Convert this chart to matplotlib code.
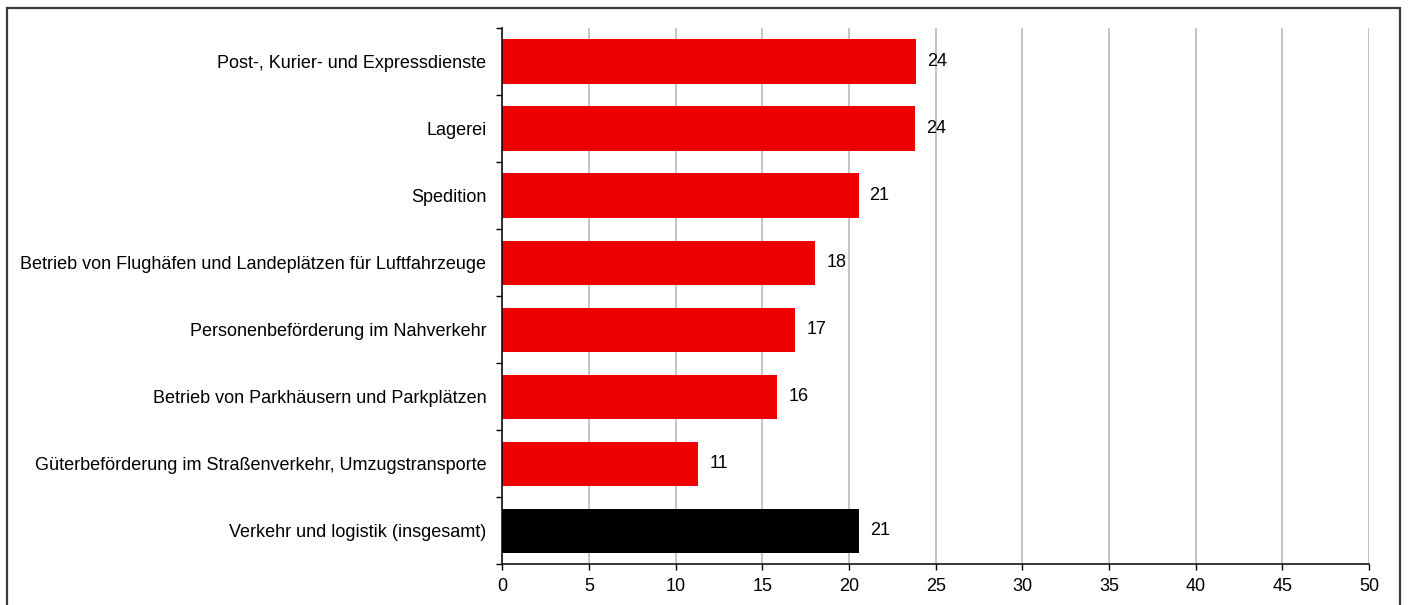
import matplotlib
matplotlib.use("Agg")
import matplotlib.pyplot as plt
from matplotlib.patches import Rectangle
import numpy as np

plt.rcParams['font.family'] = ['Liberation Sans', 'DejaVu Sans']

categories = [
    "Post-, Kurier- und Expressdienste",
    "Lagerei",
    "Spedition",
    "Betrieb von Flughäfen und Landeplätzen für Luftfahrzeuge",
    "Personenbeförderung im Nahverkehr",
    "Betrieb von Parkhäusern und Parkplätzen",
    "Güterbeförderung im Straßenverkehr, Umzugstransporte",
    "Verkehr und logistik (insgesamt)",
]
values = [23.85, 23.8, 20.55, 18.05, 16.9, 15.85, 11.3, 20.6]
colors = ["#ee0000"] * 7 + ["#000000"]
xticks = [0, 5, 10, 15, 20, 25, 30, 35, 40, 45, 50]

W, H = 1408, 605
FS = 13
fig = plt.figure(figsize=(W / 100, H / 100), dpi=100)
ax = fig.add_axes([502.3 / W, 1 - 564.3 / H, (1369 - 502.3) / W, (564.3 - 28) / H])

y = np.arange(len(categories))
ax.barh(y, values, height=0.66, color=colors, zorder=3)

for yi, v in zip(y, values):
    ax.annotate(f"{v:.0f}", xy=(v, yi), xytext=(8, 0), textcoords="offset points",
                va="center", ha="left", fontsize=FS, color="#000000")

ax.set_xlim(0, 50)
ax.set_ylim(len(categories) - 0.5, -0.5)
ax.set_xticks(xticks)
ax.set_xticklabels([str(t) for t in xticks], fontsize=FS)
ax.set_yticks(y)
ax.set_yticklabels(categories, fontsize=FS)
ax.set_yticks(np.arange(len(categories) + 1) - 0.5, minor=True)

ax.tick_params(axis="y", which="major", length=0, pad=11.5)
ax.tick_params(axis="y", which="minor", length=4, width=1, direction="out", color="#000000")
ax.tick_params(axis="x", which="major", length=4, width=1, direction="out", pad=6, color="#000000")

ax.grid(axis="x", color="#b4b4b4", linewidth=1.1, zorder=0)
ax.set_axisbelow(True)
for side in ("top", "right"):
    ax.spines[side].set_visible(False)
for side in ("left", "bottom"):
    ax.spines[side].set_color("#000000")
    ax.spines[side].set_linewidth(1.1)
    ax.spines[side].set_zorder(4)

# outer frame around the chart area (open at the bottom)
fig.patches.append(Rectangle((7.5 / W, -0.05), (1399.5 - 7.5) / W, 1.05 - 7.5 / H,
                             transform=fig.transFigure, fill=False,
                             edgecolor="#3a3a3a", linewidth=1.6))

fig.savefig("out.png", dpi=100, facecolor="white")
